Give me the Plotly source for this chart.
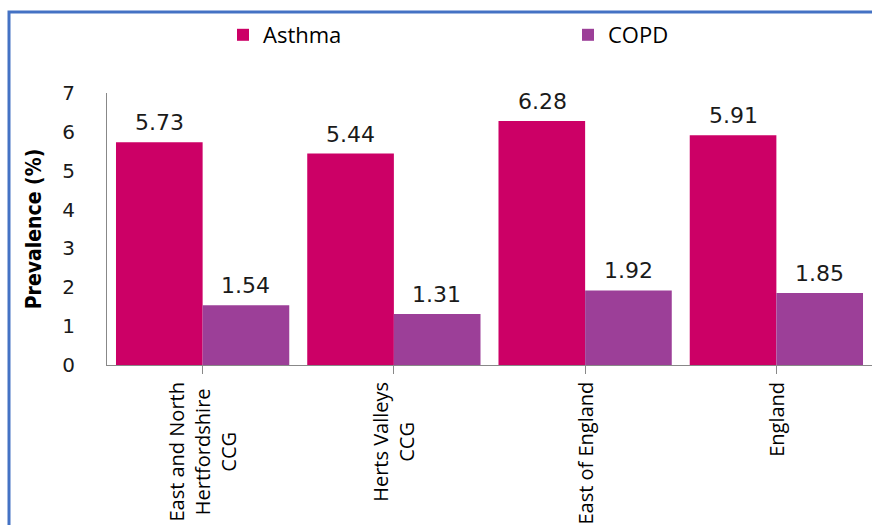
import plotly.graph_objects as go

categories = ["East and North<br>Hertfordshire<br>CCG", "Herts Valleys<br>CCG", "East of England", "England"]
asthma = [5.73, 5.44, 6.28, 5.91]
copd = [1.54, 1.31, 1.92, 1.85]
y_ticks = [0, 1, 2, 3, 4, 5, 6, 7]

ASTHMA_C = "#CC0066"
COPD_C = "#9C3F98"
xs = list(range(len(categories)))

fig = go.Figure()
fig.add_trace(go.Bar(name="Asthma", x=xs, y=asthma, legend="legend",
                     marker=dict(color=ASTHMA_C, line=dict(width=0))))
fig.add_trace(go.Bar(name="COPD", x=xs, y=copd, legend="legend2",
                     marker=dict(color=COPD_C, line=dict(width=0))))

annotations = []
label_font = dict(family="DejaVu Sans", size=22, color="#1a1a1a")
for i in xs:
    annotations.append(dict(x=i - 0.225, y=asthma[i], xref="x", yref="y", text=f"{asthma[i]:.2f}",
                            showarrow=False, yanchor="bottom", yshift=5, font=label_font))
    annotations.append(dict(x=i + 0.225, y=copd[i], xref="x", yref="y", text=f"{copd[i]:.2f}",
                            showarrow=False, yanchor="bottom", yshift=5, font=label_font))
    annotations.append(dict(x=i, y=-0.055, xref="x", yref="paper", text=categories[i],
                            showarrow=False, textangle=-90, yanchor="top", xanchor="center", align="center",
                            font=dict(family="Open Sans", size=20, color="#000000")))

legend_font = dict(family="Open Sans", size=22, color="#000000")
fig.update_layout(
    width=872, height=525,
    margin=dict(l=107, r=0, t=93, b=160, autoexpand=False),
    paper_bgcolor="white", plot_bgcolor="white",
    barmode="group", bargap=0.094, bargroupgap=0,
    showlegend=True,
    legend=dict(orientation="h", xref="container", yref="container", x=223 / 872, xanchor="left",
                y=1 - 35 / 525, yanchor="middle", font=legend_font, bgcolor="rgba(0,0,0,0)"),
    legend2=dict(orientation="h", xref="container", yref="container", x=568 / 872, xanchor="left",
                 y=1 - 35 / 525, yanchor="middle", font=legend_font, bgcolor="rgba(0,0,0,0)"),
    xaxis=dict(range=[-0.5, 3.5], tickmode="array", tickvals=xs, showticklabels=False,
               tickson="boundaries", ticks="outside", ticklen=8, tickcolor="#888888",
               showline=True, linecolor="#888888", linewidth=1, showgrid=False, zeroline=False,
               automargin=False),
    yaxis=dict(range=[0, 7], tickmode="array", tickvals=y_ticks, ticktext=[str(v) for v in y_ticks],
               ticks="", ticklabelstandoff=27, automargin=False,
               tickfont=dict(family="DejaVu Sans", size=20, color="#1a1a1a"),
               showline=True, linecolor="#888888", linewidth=1, showgrid=False, zeroline=False,
               title=dict(text="<b>Prevalence (%)</b>", standoff=14,
                          font=dict(family="DejaVu Sans Condensed", size=21, color="#000000"))),
    annotations=annotations,
    shapes=[dict(type="rect", xref="paper", yref="paper",
                 x0=(9 - 107) / 765, x1=(900 - 107) / 765,
                 y0=(365 - 560) / 272, y1=(365 - 12) / 272,
                 line=dict(color="#4472C4", width=3), fillcolor="rgba(0,0,0,0)", layer="below")],
)

fig.write_html("out.html", config={"displayModeBar": False},
               post_script="document.body.style.margin='0';document.body.style.overflow='hidden';")
